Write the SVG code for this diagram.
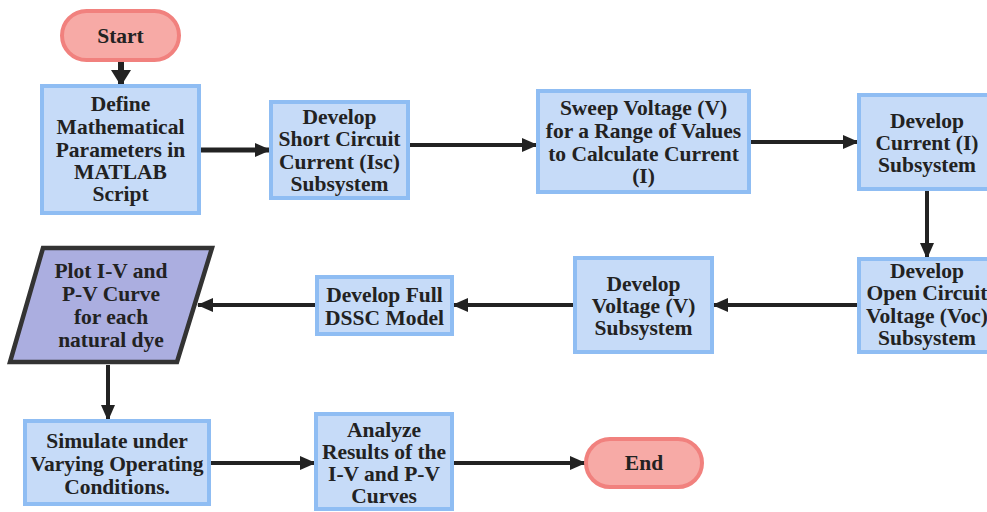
<svg xmlns="http://www.w3.org/2000/svg" width="987" height="512" viewBox="0 0 987 512">
<defs>
<style>
.box{fill:#c6dbf8;stroke:#8fbdf3;stroke-width:4}
.pill{fill:#f7aaa6;stroke:#f1817e;stroke-width:4}
.para{fill:#abaee0;stroke:#333;stroke-width:4.5}
text{font-family:"Liberation Serif","Times New Roman",serif;font-weight:bold;font-size:21.5px;fill:#222;text-anchor:middle}
.c line{stroke:#222;stroke-width:4;marker-end:url(#ah)}
</style>
<marker id="ah" markerUnits="userSpaceOnUse" markerWidth="16" markerHeight="14" refX="15" refY="7" orient="auto">
<path d="M0,0 L16,7 L0,14 Z" fill="#222"/>
</marker>
<marker id="ahb" markerUnits="userSpaceOnUse" markerWidth="16" markerHeight="22" refX="15" refY="11" orient="auto">
<path d="M0,1 L16,11 L0,21 Z" fill="#222"/>
</marker>
</defs>
<rect width="987" height="512" fill="#fff"/>
<g class="c" id="connectors">
<line x1="121" y1="61" x2="121" y2="85" style="stroke-width:6;marker-end:url(#ahb)"/>
<line x1="200" y1="150" x2="270" y2="150" style="stroke-width:5"/>
<line x1="409" y1="145" x2="537" y2="145"/>
<line x1="750" y1="142" x2="858" y2="142"/>
<line x1="927" y1="190" x2="927" y2="258"/>
<line x1="858" y1="305" x2="713" y2="305"/>
<line x1="574" y1="305" x2="453" y2="305"/>
<line x1="316" y1="305" x2="198" y2="305"/>
<line x1="108" y1="365" x2="108" y2="420"/>
<line x1="210" y1="463" x2="315" y2="463"/>
<line x1="453" y1="463" x2="585" y2="463"/>
</g>
<g id="start">
<rect class="pill" x="62" y="11" width="117" height="49" rx="24.5"/>
<text x="120.5" y="43">Start</text>
</g>
<g id="define">
<rect class="box" x="42" y="86" width="157" height="127"/>
<text x="120.5" y="111">Define</text>
<text x="120.5" y="134">Mathematical</text>
<text x="120.5" y="157">Parameters in</text>
<text x="120.5" y="179">MATLAB</text>
<text x="120.5" y="201">Script</text>
</g>
<g id="isc">
<rect class="box" x="271" y="102" width="137" height="96"/>
<text x="339.5" y="124">Develop</text>
<text x="339.5" y="146">Short Circuit</text>
<text x="339.5" y="169">Current (Isc)</text>
<text x="339.5" y="191">Subsystem</text>
</g>
<g id="sweep">
<rect class="box" x="538" y="91" width="211" height="101"/>
<text x="643.5" y="115">Sweep Voltage (V)</text>
<text x="643.5" y="138">for a Range of Values</text>
<text x="643.5" y="161">to Calculate Current</text>
<text x="643.5" y="183">(I)</text>
</g>
<g id="current">
<rect class="box" x="859" y="95" width="140" height="94"/>
<text x="927" y="128">Develop</text>
<text x="927" y="150">Current (I)</text>
<text x="927" y="172">Subsystem</text>
</g>
<g id="voc">
<rect class="box" x="859" y="259" width="140" height="93"/>
<text x="927" y="278">Develop</text>
<text x="927" y="300">Open Circuit</text>
<text x="927" y="323">Voltage (Voc)</text>
<text x="927" y="345">Subsystem</text>
</g>
<g id="voltage">
<rect class="box" x="575" y="258" width="137" height="94"/>
<text x="643.5" y="291">Develop</text>
<text x="643.5" y="313">Voltage (V)</text>
<text x="643.5" y="335">Subsystem</text>
</g>
<g id="full">
<rect class="box" x="317" y="277" width="135" height="57"/>
<text x="384.5" y="302">Develop Full</text>
<text x="384.5" y="325">DSSC Model</text>
</g>
<g id="plot">
<polygon class="para" points="43,248 212,248 177,362 10,362"/>
<text x="111" y="278">Plot I-V and</text>
<text x="111" y="301">P-V Curve</text>
<text x="111" y="324">for each</text>
<text x="111" y="347">natural dye</text>
</g>
<g id="simulate">
<rect class="box" x="25" y="421" width="184" height="83"/>
<text x="117" y="448">Simulate under</text>
<text x="117" y="471">Varying Operating</text>
<text x="117" y="494">Conditions.</text>
</g>
<g id="analyze">
<rect class="box" x="316" y="414" width="136" height="95"/>
<text x="384" y="437">Analyze</text>
<text x="384" y="459">Results of the</text>
<text x="384" y="481">I-V and P-V</text>
<text x="384" y="503">Curves</text>
</g>
<g id="end">
<rect class="pill" x="586" y="439" width="116" height="48" rx="24"/>
<text x="644" y="470">End</text>
</g>
</svg>
